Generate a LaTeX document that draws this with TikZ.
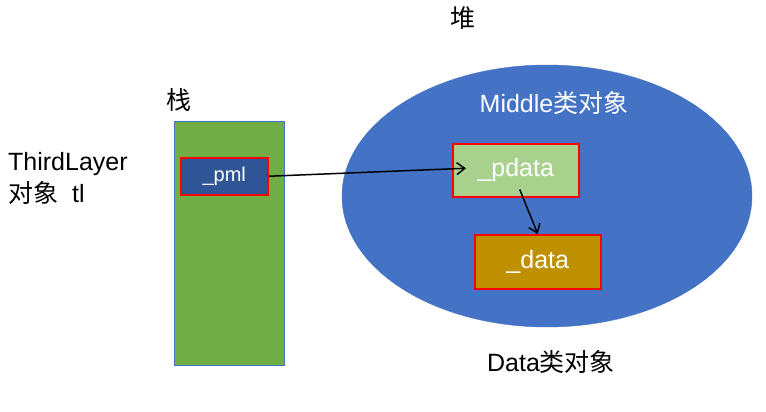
\documentclass[tikz,border=0pt]{standalone}
\usepackage{fontspec}
\setmainfont{Liberation Sans}
\newfontfamily\cjk{Noto Sans CJK SC}
\usetikzlibrary{arrows.meta,positioning,shapes.geometric}
\definecolor{stackgreen}{HTML}{70AD47}
\definecolor{heapblue}{HTML}{4472C4}
\definecolor{ptrblue}{HTML}{2F5597}
\definecolor{pdatagreen}{HTML}{A9D18E}
\definecolor{datagold}{HTML}{BF9000}
\tikzset{%
  big/.style={font=\fontsize{25}{32}\selectfont},
  lbl/.style={big, inner sep=0pt},
  member/.style={big, draw=red, line width=1.5pt, text=white, anchor=north west, inner sep=0pt},
  line/.style={draw, line width=1.5pt, -{Straight Barb[length=8pt,width=12pt]}},
}

\begin{document}
\begin{tikzpicture}[x=1pt,y=-1pt]
  \useasboundingbox (0,0) rectangle (766,412);

  % stack and heap
  \node (stack) [draw=heapblue, fill=stackgreen, line width=1pt, anchor=north west,
    minimum width=110pt, minimum height=244pt] at (174,121) {};
  \node (heap) [ellipse, draw=heapblue, fill=heapblue, inner sep=0pt,
    minimum width=410pt, minimum height=262pt] at (547,196) {};

  % members
  \node (pml) [member, fill=ptrblue, font=\fontsize{20}{24}\selectfont,
    minimum width=87pt, minimum height=37pt] at (180,157) {\_pml};
  \node (pdata) [member, fill=pdatagreen, minimum width=126pt, minimum height=53pt] at (452,143) {\_pdata};
  \node (data) [member, fill=datagold, minimum width=126pt, minimum height=54pt] at (474,234) {\_data};

  % labels
  \node (stacklbl) [lbl, above=9pt of stack.north west, anchor=south west, xshift=-8pt] {\cjk 栈};
  \node (heaplbl) [lbl] at (463,18) {\cjk 堆};
  \node (middle) [lbl, text=white] at (554,103) {Middle{\cjk 类对象}};
  \node (datalbl) [lbl] at (551,362) {Data{\cjk 类对象}};
  \node (tl) [lbl, align=left, anchor=north west] at (8,152) {ThirdLayer\\{\cjk 对象}\ \ tl};

  % pointers
  \coordinate (pin) at ([xshift=14pt,yshift=2pt]pdata.west);
  \coordinate (pout) at ([xshift=4pt,yshift=8pt]pdata.south);
  \path [line] (pml.east) -- (pin);
  \path [line] (pout) -- (data.north);
\end{tikzpicture}
\end{document}
